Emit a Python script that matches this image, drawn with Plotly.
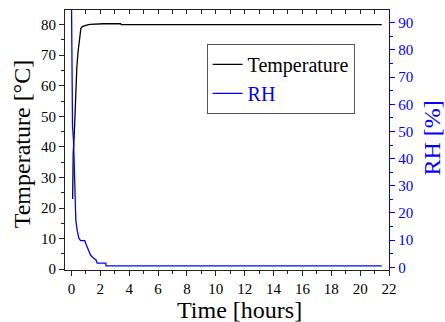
import plotly.graph_objects as go

# Temperature series (hours, °C)
temp_time = [0.08, 0.08, 0.12, 0.2, 0.28, 0.37, 0.45, 0.51, 0.58, 0.65, 0.75, 0.9, 1.1, 1.3, 1.8, 2.2, 3.4, 3.45, 21.5]
temp_vals = [23, 32, 38, 45, 56, 66, 71, 74, 76.8, 78.8, 79.4, 79.7, 79.9, 80.1, 80.3, 80.3, 80.3, 80.0, 80.0]

# RH series (hours, %)
rh_time = [0.0, 0.02, 0.07, 0.14, 0.21, 0.25, 0.3, 0.39, 0.51, 0.63, 0.92, 1.0, 1.15, 1.32, 1.5, 1.7, 1.78, 2.38, 2.39, 21.5]
rh_vals = [98, 72, 52, 46.8, 35.8, 24.8, 17.4, 13.7, 10.7, 9.8, 9.8, 8.6, 6.4, 4.5, 3.5, 2.7, 1.5, 1.5, 0.5, 0.5]

FONT = "Liberation Serif, Times New Roman, serif"

fig = go.Figure()
fig.add_trace(go.Scatter(x=temp_time, y=temp_vals, mode="lines", name="Temperature",
                         line=dict(color="black", width=1.3), xaxis="x", yaxis="y"))
fig.add_trace(go.Scatter(x=rh_time, y=rh_vals, mode="lines",
                         name="<span style='color:#0000ff'>RH</span>",
                         line=dict(color="#0000ff", width=1.3), xaxis="x", yaxis="y2"))
# invisible trace to activate top mirror axis
fig.add_trace(go.Scatter(x=[0], y=[0], mode="markers", marker=dict(opacity=0),
                         showlegend=False, hoverinfo="skip", xaxis="x2", yaxis="y"))

fig.update_layout(
    width=445, height=322,
    margin=dict(l=65, r=56, t=10, b=52, autoexpand=False),
    paper_bgcolor="white", plot_bgcolor="white",
    font=dict(family=FONT, color="black", size=15),
    xaxis=dict(range=[-0.45, 22], tickmode="linear", tick0=0, dtick=2, automargin=False,
               ticks="outside", ticklen=5, tickwidth=1, tickcolor="#222",
               showline=True, linecolor="#222", linewidth=1, showgrid=False, zeroline=False,
               minor=dict(dtick=1, tick0=0, ticks="outside", ticklen=3, tickcolor="#222", showgrid=False),
               tickfont=dict(size=15, family=FONT)),
    xaxis2=dict(range=[-0.45, 22], overlaying="x", side="top", anchor="y", automargin=False,
                tickmode="linear", tick0=0, dtick=1, ticks="inside", ticklen=4,
                tickcolor="#222", showticklabels=False, showline=True, linecolor="#222",
                linewidth=1, showgrid=False, zeroline=False),
    yaxis=dict(range=[-0.25, 84.8], tickmode="linear", tick0=0, dtick=10, automargin=False,
               ticks="outside", ticklen=5, tickcolor="#222",
               showline=True, linecolor="#222", linewidth=1, showgrid=False, zeroline=False,
               minor=dict(dtick=5, tick0=0, ticks="outside", ticklen=3, tickcolor="#222", showgrid=False),
               tickfont=dict(size=15, family=FONT)),
    yaxis2=dict(range=[-1.0, 94.7], overlaying="y", side="right", anchor="x", automargin=False,
                tickmode="linear", tick0=0, dtick=10,
                ticks="outside", ticklen=5, tickcolor="#0000ff",
                showline=True, linecolor="#0000ff", linewidth=1.3, showgrid=False, zeroline=False,
                minor=dict(dtick=5, tick0=0, ticks="outside", ticklen=3, tickcolor="#0000ff", showgrid=False),
                tickfont=dict(size=15, family=FONT, color="#0000ff")),
    legend=dict(x=0.437, y=0.87, xanchor="left", yanchor="top",
                bordercolor="#555", borderwidth=1, bgcolor="white",
                font=dict(size=20, family=FONT), tracegroupgap=0),
    showlegend=True,
    annotations=[
        dict(text="Time [hours]", xref="paper", yref="paper", x=0.54, y=-0.154,
             xanchor="center", yanchor="middle", showarrow=False,
             font=dict(size=24, family=FONT, color="black")),
        dict(text="Temperature [°C]", xref="paper", yref="paper", x=-0.133, y=0.487,
             xanchor="center", yanchor="middle", showarrow=False, textangle=-90,
             font=dict(size=24, family=FONT, color="black")),
        dict(text="RH [%]", xref="paper", yref="paper", x=1.133, y=0.506,
             xanchor="center", yanchor="middle", showarrow=False, textangle=-90,
             font=dict(size=24, family=FONT, color="#0000ff")),
    ],
)

fig.write_html("out.html", config={"displayModeBar": False},
               post_script="document.body.style.margin='0';document.body.style.overflow='hidden';")
